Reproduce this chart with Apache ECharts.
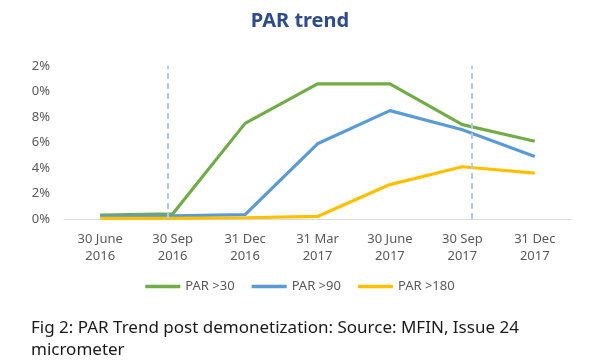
<!DOCTYPE html>
<html>
<head>
<meta charset="utf-8">
<script src="https://cdn.jsdelivr.net/npm/echarts@6/dist/echarts.min.js"></script>
<style>
html,body{margin:0;padding:0;background:#fff;}
#chart{width:600px;height:364px;}
</style>
</head>
<body>
<div id="chart"></div>
<script>
var categories = ['30 June\n2016','30 Sep\n2016','31 Dec\n2016','31 Mar\n2017','30 June\n2017','30 Sep\n2017','31 Dec\n2017'];
var par30  = [0.3, 0.4, 7.5, 10.6, 10.6, 7.4, 6.1];
var par90  = [0.2, 0.25, 0.35, 5.9, 8.5, 7.0, 4.9];
var par180 = [0.05, 0.05, 0.1, 0.2, 2.7, 4.1, 3.6];
var yTickLabels = ['0%','2%','4%','6%','8%','0%','2%'];
var markerPositions = [0.93, 5.13];
var seriesNames = ['PAR >30','PAR >90','PAR >180'];

var chart = echarts.init(document.getElementById('chart'), null, {renderer:'canvas'});
var font = 'Noto Sans';
function lineSeries(name, data, color){
  return {
    name: name, type: 'line', data: data, symbol: 'none',
    lineStyle: {color: color, width: 3.2}, itemStyle: {color: color},
    xAxisIndex: 0, yAxisIndex: 0, animation: false
  };
}
chart.setOption({
  animation: false,
  title: [{
    text: 'PAR trend', left: 'center', top: 6,
    textStyle: {fontFamily: font, fontSize: 20, fontWeight: 'bold', color: '#2E4C8C'}
  },{
    text: 'Fig 2: PAR Trend post demonetization: Source: MFIN, Issue 24\nmicrometer',
    left: 26, top: 312,
    textStyle: {fontFamily: font, fontSize: 17, fontWeight: 'normal', color: '#1a1a1a', lineHeight: 22}
  }],
  legend: {
    data: seriesNames, bottom: 66, left: 'center',
    icon: 'rect', itemWidth: 35, itemHeight: 3.5, itemGap: 17,
    textStyle: {fontFamily: font, fontSize: 13, color: '#595959'}
  },
  grid: {left: 64, right: 29, top: 66, bottom: 145},
  xAxis: [{
    type: 'category', data: categories, boundaryGap: true,
    axisLine: {lineStyle: {color: '#D9D9D9', width: 1}},
    axisTick: {show: false},
    axisLabel: {fontFamily: font, fontSize: 13, color: '#595959', lineHeight: 17, margin: 12, interval: 0}
  },{
    type: 'value', min: -0.5, max: 6.5, show: false
  }],
  yAxis: [{
    type: 'value', min: 0, max: 12, interval: 2,
    axisLine: {show: false}, axisTick: {show: false},
    splitLine: {show: false},
    axisLabel: {fontFamily: font, fontSize: 13, color: '#595959', margin: 14,
      formatter: function(v){ return yTickLabels[Math.round(v/2)]; }}
  }],
  series: [
    lineSeries(seriesNames[0], par30, '#70AD47'),
    lineSeries(seriesNames[1], par90, '#5B9BD5'),
    lineSeries(seriesNames[2], par180, '#FFC000'),
    {
      type: 'line', data: [], xAxisIndex: 1, yAxisIndex: 0, silent: true,
      markLine: {
        symbol: 'none', silent: true, label: {show: false},
        lineStyle: {color: '#B4C7E7', type: [6, 4], width: 2},
        data: markerPositions.map(function(p){ return {xAxis: p}; })
      }
    }
  ]
});
</script>
</body>
</html>
